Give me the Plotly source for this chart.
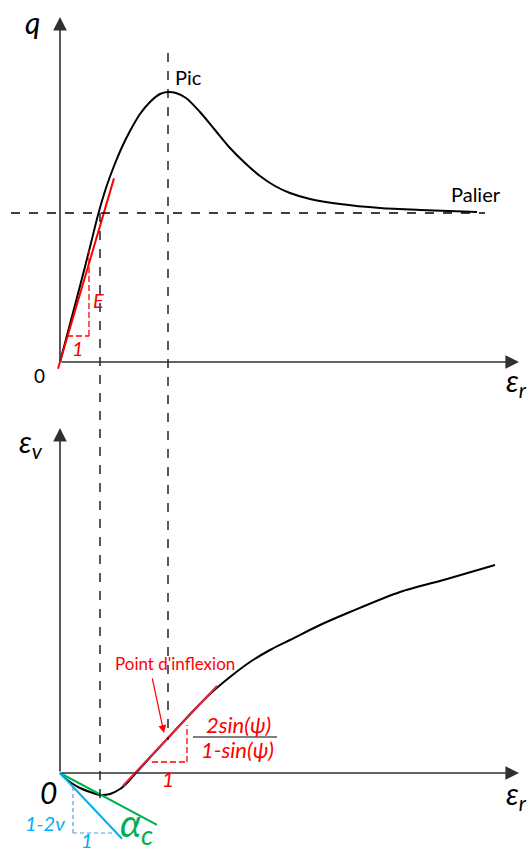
import plotly.graph_objects as go

# ---------------------------------------------------------------------------
# Data (arbitrary strain / stress units)
# ---------------------------------------------------------------------------
# Deviatoric stress q versus axial strain eps_r
eps_r_q = [0.00, 0.10, 0.20, 0.30, 0.38, 0.46, 0.54, 0.62, 0.70, 0.80, 0.90,
           1.00, 1.08, 1.16, 1.26, 1.40, 1.55, 1.70, 1.85, 2.00, 2.15, 2.30,
           2.50, 2.80, 3.20, 3.60, 4.17]
q_vals = [0.00, 0.38, 0.76, 1.15, 1.47, 1.74, 1.96, 2.15, 2.31, 2.48, 2.60,
          2.68, 2.70, 2.69, 2.64, 2.50, 2.32, 2.14, 1.99, 1.86, 1.76, 1.69,
          1.63, 1.58, 1.54, 1.52, 1.50]

# Volumetric strain eps_v versus axial strain eps_r
eps_r_v = [0.00, 0.05, 0.10, 0.20, 0.30, 0.40, 0.50, 0.60, 0.68, 0.75, 0.85,
           0.95, 1.08, 1.20, 1.35, 1.50, 1.70, 1.90, 2.10, 2.30, 2.60, 2.90,
           3.40, 3.87, 4.35]
ev_vals = [0.00, -0.05, -0.09, -0.15, -0.19, -0.22, -0.21, -0.16, -0.09, -0.01,
           0.10, 0.21, 0.35, 0.48, 0.64, 0.79, 0.96, 1.11, 1.23, 1.33, 1.48,
           1.61, 1.81, 1.94, 2.08]

# Characteristic values
eps_peak, q_peak = 1.08, 2.70          # peak
q_palier = 1.49                        # residual plateau
eps_palier_cross = 0.40                # strain where the plateau level is first reached
E_slope = 3.40                         # initial Young's modulus slope
E_range = [-0.02, 0.54]                # extent of the tangent drawn at origin
eps_inf, ev_inf = 1.08, 0.35           # inflection of eps_v curve
dil_slope = 1.06                       # 2sin(psi)/(1-sin(psi))
dil_range = [0.63, 1.57]
alpha_c = -0.536                       # contraction slope
alpha_end = 0.97
nu_slope = -1.06                       # 1-2nu
nu_end = 0.62

# ---------------------------------------------------------------------------
# Layout constants
# ---------------------------------------------------------------------------
W, H = 529, 851
PANEL_GAP = 4.11                       # vertical offset between the two origins
FONT = "Lato, 'Noto Sans', 'DejaVu Sans', sans-serif"
RED = "#ff0000"
BLUE = "#00b0f0"
GREEN = "#00b050"
AX = "#303030"


def top_to_bottom(q):
    """Express a q-panel ordinate in the eps_v axis units."""
    return q + PANEL_GAP


fig = go.Figure()

# Stress-strain curve
fig.add_trace(go.Scatter(x=eps_r_q, y=q_vals, mode="lines", yaxis="y",
                         line=dict(color="black", width=2, shape="spline", smoothing=0.8),
                         hoverinfo="skip"))
# Initial tangent (modulus E)
fig.add_trace(go.Scatter(x=E_range, y=[E_slope * e for e in E_range], mode="lines",
                         yaxis="y", line=dict(color=RED, width=2), hoverinfo="skip"))

# Volumetric curve
fig.add_trace(go.Scatter(x=eps_r_v, y=ev_vals, mode="lines", yaxis="y2",
                         line=dict(color="black", width=2, shape="spline", smoothing=0.8),
                         hoverinfo="skip"))
# Dilatancy tangent at inflection
fig.add_trace(go.Scatter(x=dil_range,
                         y=[ev_inf + dil_slope * (e - eps_inf) for e in dil_range],
                         mode="lines", yaxis="y2",
                         line=dict(color="#ee1f3d", width=2), hoverinfo="skip"))
# Initial contraction slope alpha_c
fig.add_trace(go.Scatter(x=[0, alpha_end], y=[0, alpha_c * alpha_end], mode="lines",
                         yaxis="y2", line=dict(color=GREEN, width=2), hoverinfo="skip"))
# Elastic slope 1-2nu
fig.add_trace(go.Scatter(x=[0, nu_end], y=[0, nu_slope * nu_end], mode="lines",
                         yaxis="y2", line=dict(color=BLUE, width=2), hoverinfo="skip"))

shapes = []


def seg(x0, y0, x1, y1, yref, color="black", width=1.3, dash="dash"):
    shapes.append(dict(type="line", xref="x", yref=yref, x0=x0, y0=y0, x1=x1, y1=y1,
                       line=dict(color=color, width=width, dash=dash)))


# Guide lines
seg(-0.49, q_palier, 4.25, q_palier, "y")
seg(eps_peak, top_to_bottom(3.09), eps_peak, ev_inf - 0.02, "y2")
seg(eps_palier_cross, top_to_bottom(q_palier), eps_palier_cross, -0.32, "y2")

# Slope triangle for E
seg(0.07, 0.26, 0.29, 0.26, "y", color=RED, width=1.3, dash="6px,3px")
seg(0.29, 0.26, 0.29, 1.15, "y", color=RED, width=1.3, dash="6px,3px")

# Slope triangle for dilatancy
seg(0.92, 0.11, 1.27, 0.11, "y2", color=RED, width=1.3, dash="6px,3px")
seg(1.27, 0.11, 1.27, 0.48, "y2", color=RED, width=1.3, dash="6px,3px")

# Slope triangle for 1-2nu
seg(0.13, -0.14, 0.13, -0.60, "y2", color="#5b9bd5", width=1.2, dash="4px,3px")
seg(0.13, -0.60, 0.53, -0.60, "y2", color="#5b9bd5", width=1.2, dash="4px,3px")

# Fraction bar
seg(1.33, 0.36, 2.17, 0.36, "y2", color="black", width=1.2, dash="solid")

annotations = []


def arrow(x, y, ax, ay, yref, color=AX, width=1.6, size=1.7):
    annotations.append(dict(x=x, y=y, ax=ax, ay=ay, xref="x", yref=yref,
                            axref="x", ayref=yref, text="", showarrow=True,
                            arrowhead=2, arrowsize=size, arrowwidth=width,
                            arrowcolor=color, standoff=0))


def label(x, y, text, yref, size=18, color="black"):
    annotations.append(dict(x=x, y=y, xref="x", yref=yref, text=text, showarrow=False,
                            font=dict(family=FONT, size=size, color=color),
                            xanchor="center", yanchor="middle"))


# Axes with arrows
arrow(0, 3.45, 0, 0, "y")
arrow(4.59, 0, 0, 0, "y")
arrow(0, 3.45, 0, 0, "y2")
arrow(4.59, 0, 0, 0, "y2")

# Pointer to inflection
arrow(1.04, 0.40, 0.92, 0.96, "y2", color=RED, width=1.2, size=1.3)

# Top panel labels
label(-0.28, 3.40, "<i>q</i>", "y", size=30)
label(-0.21, -0.13, "0", "y", size=19)
label(4.56, -0.20, "<i>ε<sub>r</sub></i>", "y", size=30)
label(1.28, 2.85, "Pic", "y", size=20)
label(4.16, 1.68, "Palier", "y", size=20)
label(0.38, 0.62, "<i>E</i>", "y", size=20, color=RED)
label(0.18, 0.14, "<i>1</i>", "y", size=20, color=RED)

# Bottom panel labels
label(-0.29, 3.30, "<i>ε<sub>v</sub></i>", "y2", size=30)
label(4.56, -0.22, "<i>ε<sub>r</sub></i>", "y2", size=30)
label(1.15, 1.10, "Point d'inflexion", "y2", size=17, color=RED)
label(1.78, 0.49, "<i>2sin(ψ)</i>", "y2", size=22, color=RED)
label(1.77, 0.24, "<i>1-sin(ψ)</i>", "y2", size=22, color=RED)
label(1.08, -0.05, "<i>1</i>", "y2", size=21, color=RED)
label(-0.12, -0.19, "<i>0</i>", "y2", size=30)
label(-0.15, -0.50, "<i>1-2ν</i>", "y2", size=20, color=BLUE)
label(0.27, -0.67, "<i>1</i>", "y2", size=20, color=BLUE)
label(0.76, -0.52, "<i>α<sub>c</sub></i>", "y2", size=38, color=GREEN)

fig.update_layout(
    width=W, height=H,
    margin=dict(l=0, r=0, t=0, b=0),
    paper_bgcolor="white", plot_bgcolor="white",
    showlegend=False,
    xaxis=dict(range=[-0.60, 4.69], visible=False, fixedrange=True),
    yaxis=dict(range=[-4.89, 3.62], visible=False, fixedrange=True, domain=[0, 1]),
    yaxis2=dict(range=[-0.78, 7.73], visible=False, fixedrange=True,
                overlaying="y", domain=[0, 1]),
    shapes=shapes,
    annotations=annotations,
)

fig.write_html("out.html")
